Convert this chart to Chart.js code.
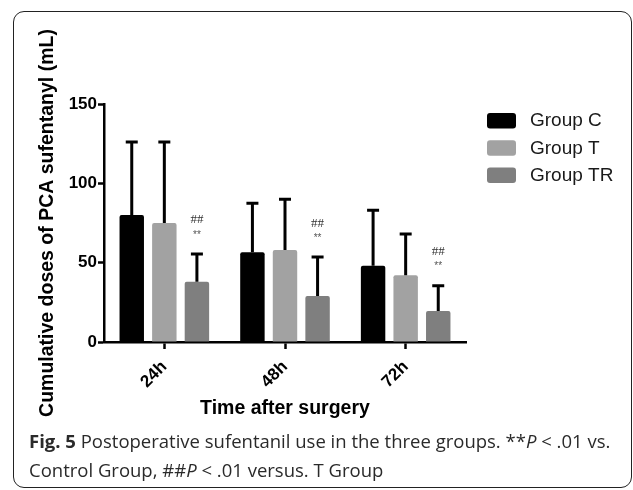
<!DOCTYPE html>
<html>
<head>
<meta charset="utf-8">
<script src="https://cdn.jsdelivr.net/npm/chart.js@4.4.1/dist/chart.umd.min.js"></script>
<style>
body { margin: 0; background: #fff; }
#wrap { position: relative; width: 633px; height: 490px; overflow: hidden; }
#frame { position: absolute; left: 13px; top: 11px; width: 619px; height: 477px; box-sizing: border-box; border: 1.5px solid #222; border-radius: 11px; }
#chart { position: absolute; left: 0; top: 0; }
#caption { position: absolute; left: 29px; top: 426px; font-family: "Open Sans", sans-serif; font-size: 18.5px; line-height: 29px; color: #2a2a2a; white-space: nowrap; }
</style>
</head>
<body>
<div id="wrap">
  <div id="frame"></div>
  <canvas id="chart" width="633" height="430"></canvas>
  <div id="caption"><b>Fig. 5</b> Postoperative sufentanil use in the three groups. **<i>P</i> &lt; .01 vs.<br>Control Group, ##<i>P</i> &lt; .01 versus. T Group</div>
</div>
<script>
// Data
const timePoints = ['24h', '48h', '72h'];
const groupNames = ['Group C', 'Group T', 'Group TR'];
const groupC = [80, 56.5, 48];
const groupT = [75, 58, 42];
const groupTR = [38, 29, 19.5];
const sdC = [46, 31, 35];
const sdT = [51, 32, 26];
const sdTR = [17.5, 24.5, 16];
const marksUpper = ['##', '##', '##'];   // vs. T group
const marksLower = ['**', '**', '**'];   // vs. control group
const groupColors = ['#000000', '#a2a2a2', '#7f7f7f'];

const axisFont = { family: 'Liberation Sans, Arial', size: 17, weight: 'bold' };
const titleFont = { family: 'Liberation Sans, Arial', size: 19.5, weight: 'bold' };

// Error bars (upper SD only) and significance marks over Group TR
const errorBars = {
    id: 'errorBars',
    afterDatasetsDraw(chart) {
        const ctx = chart.ctx;
        const yScale = chart.scales.y;
        chart.data.datasets.forEach((ds, i) => {
            const meta = chart.getDatasetMeta(i);
            meta.data.forEach((bar, j) => {
                const yTop = yScale.getPixelForValue(ds.data[j] + ds.sd[j]);
                ctx.save();
                ctx.strokeStyle = '#000';
                ctx.lineWidth = 3;
                ctx.beginPath();
                ctx.moveTo(bar.x, bar.y);
                ctx.lineTo(bar.x, yTop);
                ctx.moveTo(bar.x - 6, yTop);
                ctx.lineTo(bar.x + 6, yTop);
                ctx.stroke();
                if (i === 2) {
                    ctx.textAlign = 'center';
                    ctx.textBaseline = 'middle';
                    ctx.fillStyle = '#333';
                    ctx.font = '13px "Liberation Serif"';
                    ctx.fillText(marksUpper[j], bar.x, yTop - 34);
                    ctx.fillStyle = '#555';
                    ctx.font = '10px "Liberation Sans"';
                    ctx.fillText(marksLower[j], bar.x, yTop - 19);
                }
                ctx.restore();
            });
        });
    }
};

// Legend on the right
const sideLegend = {
    id: 'sideLegend',
    afterDraw(chart) {
        const ctx = chart.ctx;
        chart.data.datasets.forEach((ds, i) => {
            const y = 113 + i * 27.3;
            ctx.save();
            ctx.fillStyle = ds.backgroundColor;
            ctx.beginPath();
            ctx.roundRect(487, y, 29, 15.5, 3);
            ctx.fill();
            ctx.fillStyle = '#1a1a1a';
            ctx.font = '19px "Liberation Sans"';
            ctx.textBaseline = 'middle';
            ctx.fillText(ds.label, 530, y + 8);
            ctx.restore();
        });
    }
};

const ctx = document.getElementById('chart').getContext('2d');
const allValues = [groupC, groupT, groupTR];
const allSd = [sdC, sdT, sdTR];

new Chart(ctx, {
    type: 'bar',
    data: {
        labels: timePoints,
        datasets: groupNames.map((name, i) => ({
            label: name,
            data: allValues[i],
            sd: allSd[i],
            backgroundColor: groupColors[i],
            borderRadius: 2,
            borderSkipped: 'start',
            categoryPercentage: 0.81,
            barPercentage: 0.75
        }))
    },
    options: {
        responsive: false,
        animation: false,
        devicePixelRatio: 1,
        layout: { padding: { left: 36, top: 104, right: 167, bottom: 10 } },
        scales: {
            x: {
                offset: true,
                grid: { display: true, drawOnChartArea: false, drawTicks: true, tickLength: 7, tickWidth: 2.5, tickColor: '#000', offset: false },
                border: { display: true, color: '#000', width: 2.5 },
                ticks: { color: '#000', font: axisFont, minRotation: 45, maxRotation: 45, padding: 8 },
                title: { display: true, text: 'Time after surgery', color: '#000', font: titleFont, padding: 0 },
                afterFit(scale) { scale.height = 78; }
            },
            y: {
                min: 0,
                max: 150,
                ticks: { stepSize: 50, color: '#000', font: axisFont, padding: 1 },
                grid: { display: true, drawOnChartArea: false, drawTicks: true, tickLength: 6, tickWidth: 2.5, tickColor: '#000' },
                border: { display: true, color: '#000', width: 2.5 },
                title: { display: true, text: 'Cumulative doses of PCA sufentanyl (mL)', color: '#000', font: titleFont, padding: 0 },
                afterFit(scale) { scale.width = 68; }
            }
        },
        plugins: {
            legend: { display: false },
            tooltip: { enabled: false }
        }
    },
    plugins: [errorBars, sideLegend]
});
</script>
</body>
</html>
